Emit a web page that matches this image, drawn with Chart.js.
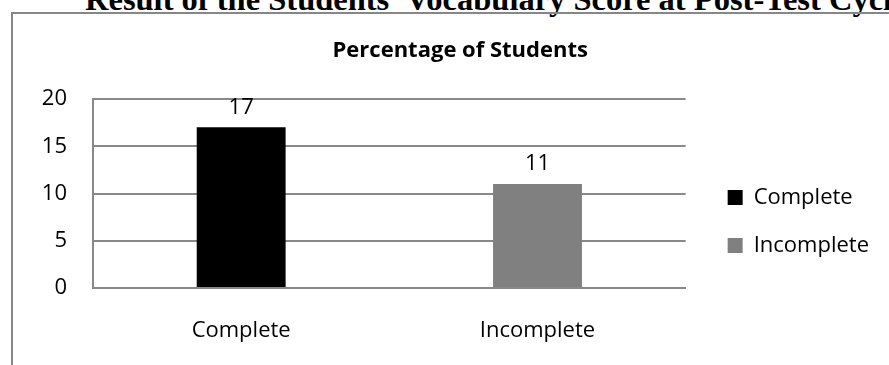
<html lang="en">
<head>
    <meta charset="UTF-8">
    <title>Percentage of Students</title>
    <script src="https://cdn.jsdelivr.net/npm/chart.js"></script>
    <style>
        body {
            margin: 0;
            width: 889px;
            height: 365px;
            overflow: hidden;
            background: #fff;
        }
        #pageTitle {
            position: absolute;
            left: 85px;
            top: -17px;
            font-family: "Liberation Serif", serif;
            font-weight: bold;
            font-size: 32.5px;
            line-height: 32px;
            white-space: nowrap;
        }
        #chartBox {
            position: absolute;
            left: 11px;
            top: 12px;
            width: 1000px;
            height: 1000px;
            border: 2px solid #878787;
        }
        #chartWrap {
            position: absolute;
            left: 0;
            top: 0;
            width: 889px;
            height: 365px;
        }
    </style>
</head>
<body>
    <div id="pageTitle">Result of the Students' Vocabulary Score at Post-Test Cycle II</div>
    <div id="chartBox"></div>
    <div id="chartWrap">
        <canvas id="barChart"></canvas>
    </div>

    <script>
        const categories = ['Complete', 'Incomplete'];
        const studentValues = [17, 11];
        const barColors = ['#000000', '#808080'];
        const yTicks = [0, 5, 10, 15, 20];

        const gridColor = '#898989';
        const font = { family: '"Open Sans", sans-serif', size: 22 };

        // draws the number above each bar
        const valueLabels = {
            id: 'valueLabels',
            afterDatasetsDraw(chart) {
                const ctx = chart.ctx;
                const meta = chart.getDatasetMeta(0);
                ctx.save();
                ctx.font = '22px "Open Sans", sans-serif';
                ctx.fillStyle = '#000';
                ctx.textAlign = 'center';
                ctx.textBaseline = 'middle';
                meta.data.forEach((bar, i) => {
                    ctx.fillText(studentValues[i], bar.x, bar.y - 20);
                });
                ctx.restore();
            }
        };

        new Chart(document.getElementById('barChart'), {
            type: 'bar',
            data: {
                labels: categories,
                datasets: [{
                    label: 'Percentage of Students',
                    data: studentValues,
                    backgroundColor: barColors,
                    barPercentage: 0.3,
                    categoryPercentage: 1.0
                }]
            },
            plugins: [valueLabels],
            options: {
                responsive: true,
                maintainAspectRatio: false,
                animation: false,
                layout: {
                    padding: { left: 41.5, top: 0, right: 10, bottom: 20 }
                },
                plugins: {
                    title: {
                        display: true,
                        text: 'Percentage of Students',
                        color: '#000',
                        font: { family: '"Open Sans", sans-serif', size: 22, weight: 'bold' },
                        padding: { top: 38, bottom: 34.6 }
                    },
                    legend: {
                        position: 'right',
                        // empty title only pushes the items down
                        title: {
                            display: true,
                            text: '',
                            font: { size: 10 },
                            padding: { top: 0, bottom: 86 }
                        },
                        labels: {
                            color: '#000',
                            font: font,
                            boxWidth: 15,
                            boxHeight: 15,
                            padding: 26,
                            generateLabels: () => categories.map((c, i) => ({
                                text: c,
                                fillStyle: barColors[i],
                                strokeStyle: barColors[i],
                                fontColor: '#000',
                                lineWidth: 0,
                                index: i
                            }))
                        }
                    },
                    tooltip: { enabled: false }
                },
                scales: {
                    x: {
                        grid: { display: false, drawTicks: false },
                        border: { color: gridColor, width: 2 },
                        ticks: { color: '#000', font: font, padding: 30 },
                        afterFit: (scale) => { scale.height = 57; }
                    },
                    y: {
                        min: 0,
                        max: 20,
                        afterBuildTicks: (scale) => {
                            scale.ticks = yTicks.map(v => ({ value: v }));
                        },
                        grid: { color: gridColor, lineWidth: 2, drawTicks: false },
                        border: { color: gridColor, width: 2 },
                        ticks: { color: '#000', font: font, padding: 26 },
                        afterFit: (scale) => { scale.width = 51.5; }
                    },
                    // hidden spacer between plot and legend
                    y2: {
                        type: 'linear',
                        position: 'right',
                        display: false,
                        afterFit: (scale) => { scale.width = 16; }
                    }
                }
            }
        });
    </script>
</body>
</html>
